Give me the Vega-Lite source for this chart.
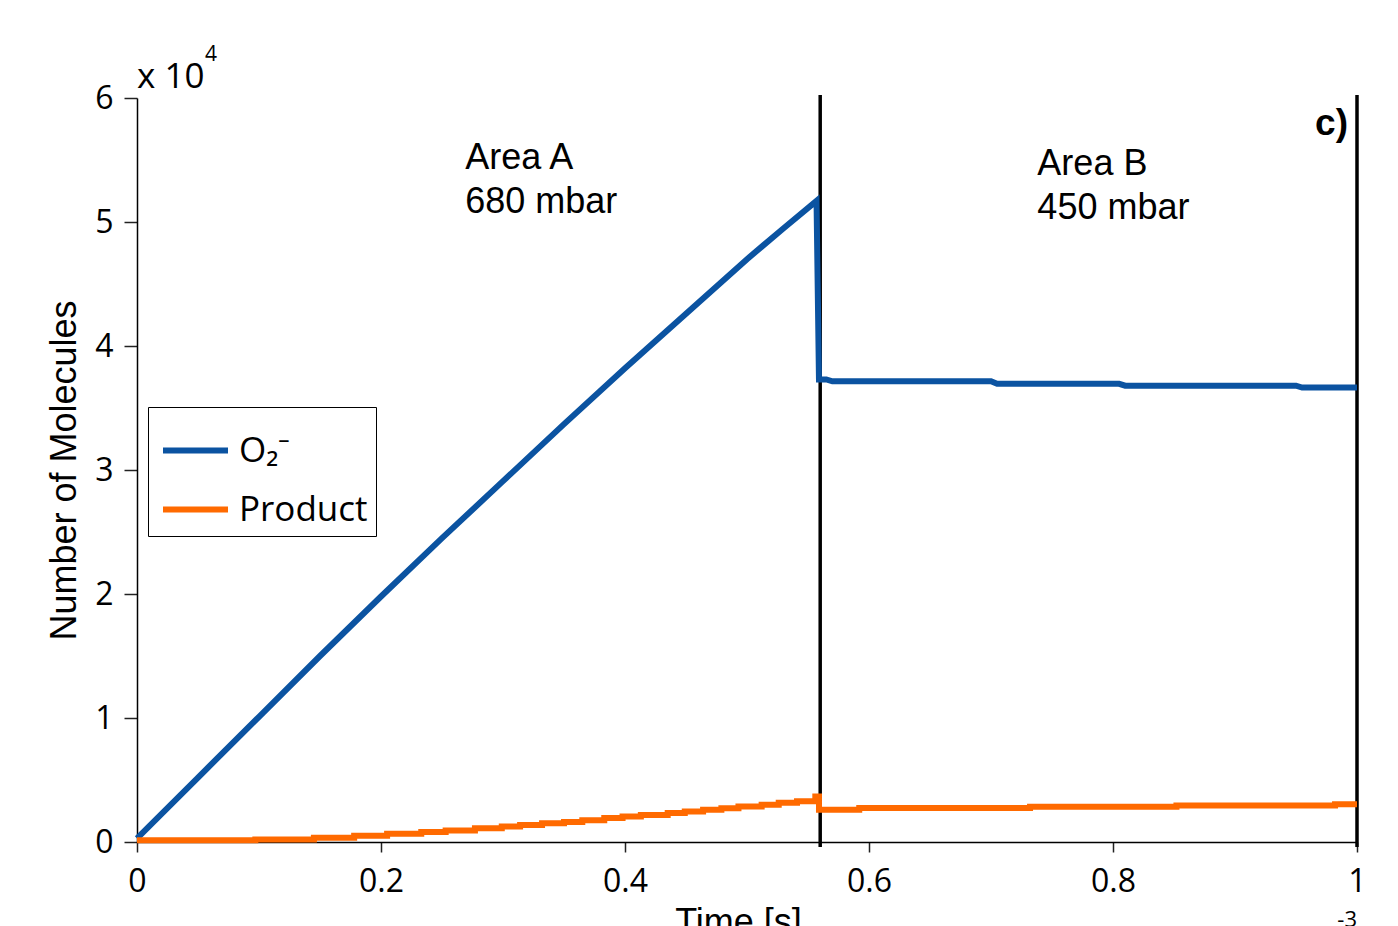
{
  "$schema": "https://vega.github.io/schema/vega-lite/v6.json",
  "width": 1220,
  "height": 744,
  "autosize": {"type": "none"},
  "padding": {"left": 137, "top": 98, "right": 41, "bottom": 84},
  "background": "white",
  "config": {
    "view": {"stroke": null},
    "axis": {"grid": false, "domainColor": "black", "domainWidth": 1.5, "tickColor": "#222", "tickWidth": 1.5,
      "labelFont": "Open Sans", "labelFontSize": 32, "labelColor": "black", "titleColor": "black",
      "titleFont": "Liberation Sans", "titleFontSize": 36, "titleFontWeight": "normal"},
    "legend": {"orient": "none", "legendX": 11, "legendY": 309, "strokeColor": "black", "fillColor": "white",
      "padding": 8, "symbolOffset": 4, "symbolType": "stroke", "symbolSize": 4225, "symbolStrokeWidth": 6,
      "labelFont": "Open Sans", "labelFontSize": 35, "labelColor": "black", "labelOffset": 8, "rowPadding": 5, "labelLimit": 300}
  },
  "datasets": {
    "o2": [
      {"t": 0, "v": 300, "series": "O2"},
      {"t": 0.05, "v": 5200, "series": "O2"},
      {"t": 0.1, "v": 10100, "series": "O2"},
      {"t": 0.15, "v": 15000, "series": "O2"},
      {"t": 0.2, "v": 19800, "series": "O2"},
      {"t": 0.25, "v": 24500, "series": "O2"},
      {"t": 0.3, "v": 29100, "series": "O2"},
      {"t": 0.35, "v": 33700, "series": "O2"},
      {"t": 0.4, "v": 38200, "series": "O2"},
      {"t": 0.45, "v": 42600, "series": "O2"},
      {"t": 0.5, "v": 47000, "series": "O2"},
      {"t": 0.53, "v": 49500, "series": "O2"},
      {"t": 0.557, "v": 51700, "series": "O2"},
      {"t": 0.559, "v": 37300, "series": "O2"},
      {"t": 0.565, "v": 37300, "series": "O2"},
      {"t": 0.57, "v": 37150, "series": "O2"},
      {"t": 0.7, "v": 37150, "series": "O2"},
      {"t": 0.705, "v": 36950, "series": "O2"},
      {"t": 0.805, "v": 36950, "series": "O2"},
      {"t": 0.81, "v": 36800, "series": "O2"},
      {"t": 0.95, "v": 36800, "series": "O2"},
      {"t": 0.955, "v": 36650, "series": "O2"},
      {"t": 1.0, "v": 36650, "series": "O2"}
    ],
    "product": [
      {"t": 0, "v": 150, "series": "Product"},
      {"t": 0.097, "v": 205, "series": "Product"},
      {"t": 0.145, "v": 334, "series": "Product"},
      {"t": 0.178, "v": 514, "series": "Product"},
      {"t": 0.205, "v": 668, "series": "Product"},
      {"t": 0.233, "v": 797, "series": "Product"},
      {"t": 0.253, "v": 925, "series": "Product"},
      {"t": 0.277, "v": 1105, "series": "Product"},
      {"t": 0.299, "v": 1259, "series": "Product"},
      {"t": 0.314, "v": 1362, "series": "Product"},
      {"t": 0.332, "v": 1516, "series": "Product"},
      {"t": 0.35, "v": 1619, "series": "Product"},
      {"t": 0.365, "v": 1748, "series": "Product"},
      {"t": 0.383, "v": 1928, "series": "Product"},
      {"t": 0.398, "v": 2056, "series": "Product"},
      {"t": 0.413, "v": 2185, "series": "Product"},
      {"t": 0.435, "v": 2339, "series": "Product"},
      {"t": 0.449, "v": 2467, "series": "Product"},
      {"t": 0.464, "v": 2596, "series": "Product"},
      {"t": 0.479, "v": 2724, "series": "Product"},
      {"t": 0.493, "v": 2853, "series": "Product"},
      {"t": 0.512, "v": 3007, "series": "Product"},
      {"t": 0.526, "v": 3161, "series": "Product"},
      {"t": 0.541, "v": 3290, "series": "Product"},
      {"t": 0.556, "v": 3675, "series": "Product"},
      {"t": 0.559, "v": 2600, "series": "Product"},
      {"t": 0.592, "v": 2750, "series": "Product"},
      {"t": 0.732, "v": 2850, "series": "Product"},
      {"t": 0.852, "v": 2950, "series": "Product"},
      {"t": 0.982, "v": 3050, "series": "Product"},
      {"t": 1.0, "v": 3050, "series": "Product"}
    ],
    "bounds": [{"t": 0.56}, {"t": 1.0}],
    "areas": [
      {"t": 0.269, "v": 54270, "label": "Area A\n680 mbar"},
      {"t": 0.738, "v": 53790, "label": "Area B\n450 mbar"}
    ]
  },
  "layer": [
    {
      "data": {"name": "bounds"},
      "mark": {"type": "rule", "color": "black", "strokeWidth": 3.5, "clip": false},
      "encoding": {
        "x": {"field": "t", "type": "quantitative"},
        "y": {"datum": -400, "type": "quantitative"},
        "y2": {"datum": 60250}
      }
    },
    {
      "data": {"name": "o2"},
      "mark": {"type": "line", "strokeWidth": 6, "interpolate": "linear", "clip": false},
      "encoding": {
        "x": {"field": "t", "type": "quantitative", "title": "Time [s]",
          "scale": {"domain": [0, 1], "nice": false, "zero": false},
          "axis": {"values": [0, 0.2, 0.4, 0.6, 0.8, 1], "labelExpr": "format(datum.value, '~g')",
            "tickSize": 10, "labelPadding": 14, "labelFlush": false, "labelOverlap": false,
            "titleBaseline": "alphabetic", "titleX": 601, "titleY": 91, "titleAnchor": "start", "titleAlign": "center"}},
        "y": {"field": "v", "type": "quantitative", "title": "Number of Molecules",
          "scale": {"domain": [0, 60000], "nice": false},
          "axis": {"values": [0, 10000, 20000, 30000, 40000, 50000, 60000], "labelExpr": "format(datum.value / 10000, '~g')",
            "tickSize": 13, "labelPadding": 11, "labelFlush": false, "labelOverlap": false,
            "titleAngle": -90, "titleBaseline": "alphabetic", "titleX": -62, "titleY": 372, "titleAlign": "center", "titleAnchor": "start"}},
        "color": {"field": "series", "type": "nominal",
          "scale": {"domain": ["O2", "Product"], "range": ["#0b53a1", "#ff6a00"]},
          "legend": {"title": null, "labelExpr": "datum.value == 'O2' ? 'O₂⁻' : datum.value"}}
      }
    },
    {
      "data": {"name": "product"},
      "mark": {"type": "line", "strokeWidth": 6, "interpolate": "step-after", "clip": false},
      "encoding": {
        "x": {"field": "t", "type": "quantitative"},
        "y": {"field": "v", "type": "quantitative"},
        "color": {"field": "series", "type": "nominal"}
      }
    },
    {
      "data": {"name": "areas"},
      "mark": {"type": "text", "font": "Liberation Sans", "fontSize": 36, "lineHeight": 44, "align": "left", "baseline": "alphabetic", "lineBreak": "\n", "color": "black"},
      "encoding": {
        "x": {"field": "t", "type": "quantitative"},
        "y": {"field": "v", "type": "quantitative"},
        "text": {"field": "label"}
      }
    },
    {
      "data": {"values": [{"label": "c)"}]},
      "mark": {"type": "text", "font": "Liberation Sans", "fontSize": 37, "fontWeight": "bold", "align": "right", "baseline": "alphabetic", "color": "black"},
      "encoding": {
        "x": {"datum": 0.9926, "type": "quantitative"},
        "y": {"datum": 57000, "type": "quantitative"},
        "text": {"field": "label"}
      }
    },
    {
      "data": {"values": [{"label": "x 10"}]},
      "mark": {"type": "text", "font": "Open Sans", "fontSize": 35, "align": "left", "baseline": "alphabetic", "dy": -10, "color": "black"},
      "encoding": {
        "x": {"datum": 0, "type": "quantitative"},
        "y": {"datum": 60000, "type": "quantitative"},
        "text": {"field": "label"}
      }
    },
    {
      "data": {"values": [{"label": "4"}]},
      "mark": {"type": "text", "font": "Open Sans", "fontSize": 21, "align": "left", "baseline": "alphabetic", "dx": 68, "dy": -37, "color": "black"},
      "encoding": {
        "x": {"datum": 0, "type": "quantitative"},
        "y": {"datum": 60000, "type": "quantitative"},
        "text": {"field": "label"}
      }
    },
    {
      "data": {"values": [{"label": "-3"}]},
      "mark": {"type": "text", "font": "Open Sans", "fontSize": 22, "align": "right", "baseline": "top", "dy": 68, "color": "black"},
      "encoding": {
        "x": {"datum": 1, "type": "quantitative"},
        "y": {"datum": 0, "type": "quantitative"},
        "text": {"field": "label"}
      }
    }
  ]
}
